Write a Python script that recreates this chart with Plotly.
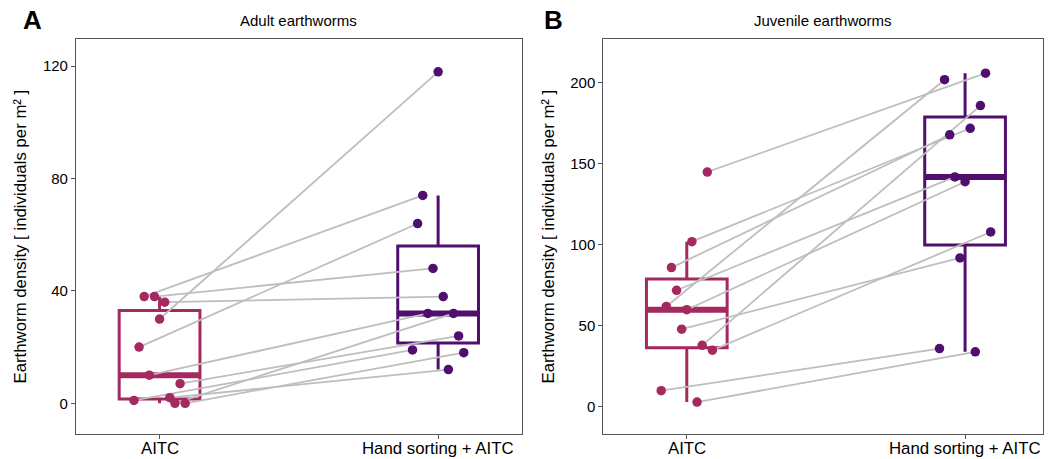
import numpy as np
import plotly.graph_objects as go

W, H = 1049, 459

groups = ["AITC", "Hand sorting + AITC"]

# Earthworm density per site (same site order in both treatments)
adult_aitc = [1, 20, 38, 10, 38, 30, 36, 2, 0, 7, 0]
adult_hand = [19, 64, 74, 32, 48, 118, 38, 12, 32, 24, 18]
juvenile_aitc = [10, 62, 86, 72, 48, 60, 102, 3, 38, 145, 35]
juvenile_hand = [36, 202, 168, 142, 92, 139, 172, 34, 186, 206, 108]

panel_titles = ["Adult earthworms", "Juvenile earthworms"]
panel_tags = ["A", "B"]
y_ticks_adult = [0, 40, 80, 120]
y_ticks_juvenile = [0, 50, 100, 150, 200]

COL_AITC = "#A3295F"
COL_HAND = "#500F6E"
COL_PAIR = "#BEBEBE"
FRAME = "#555555"
FONT = "Liberation Sans, Arial, Helvetica, sans-serif"

BOX_W = 0.29
n_sites = len(adult_aitc)
# dodge each site to its own slot so the paired points do not overlap
dodge = np.linspace(-0.092, 0.092, n_sites)


def box_stats(vals):
    """Tukey box statistics: quartiles and whiskers at the last point within 1.5 IQR."""
    v = np.asarray(vals, dtype=float)
    q1, med, q3 = np.percentile(v, [25, 50, 75])
    iqr = q3 - q1
    lo = v[v >= q1 - 1.5 * iqr].min()
    hi = v[v <= q3 + 1.5 * iqr].max()
    return q1, med, q3, lo, hi


fig = go.Figure()


def add_panel(fig, before, after, xa, ya):
    xref = "x" if xa == 1 else f"x{xa}"
    yref = "y" if ya == 1 else f"y{ya}"
    for pos, vals, col in [(1, before, COL_AITC), (2, after, COL_HAND)]:
        q1, med, q3, lo, hi = box_stats(vals)
        fig.add_trace(go.Box(
            x=[pos], q1=[q1], median=[med], q3=[q3],
            lowerfence=[lo], upperfence=[hi], width=BOX_W,
            fillcolor="rgba(0,0,0,0)", line=dict(color=col, width=3),
            boxpoints=False, whiskerwidth=0,
            xaxis=xref, yaxis=yref, showlegend=False, hoverinfo="skip",
        ))
        fig.add_trace(go.Scatter(
            x=[pos - BOX_W / 2, pos + BOX_W / 2], y=[med, med], mode="lines",
            line=dict(color=col, width=6), xaxis=xref, yaxis=yref,
            showlegend=False, hoverinfo="skip",
        ))
    # paired lines between the two treatments of each site
    for i in range(len(before)):
        fig.add_trace(go.Scatter(
            x=[1 + dodge[i], 2 + dodge[i]], y=[before[i], after[i]],
            mode="lines", line=dict(color=COL_PAIR, width=1.8),
            xaxis=xref, yaxis=yref, showlegend=False, hoverinfo="skip",
        ))
    for pos, vals, col in [(1, before, COL_AITC), (2, after, COL_HAND)]:
        fig.add_trace(go.Scatter(
            x=pos + dodge, y=vals, mode="markers",
            marker=dict(color=col, size=9.5, line=dict(width=0)),
            xaxis=xref, yaxis=yref, showlegend=False,
        ))


add_panel(fig, adult_aitc, adult_hand, 1, 1)
add_panel(fig, juvenile_aitc, juvenile_hand, 2, 2)

y_dom = [1 - 434.3 / H, 1 - 38.7 / H]
axis_common = dict(
    showline=True, mirror=True, linecolor=FRAME, linewidth=1.1,
    ticks="outside", ticklen=4, tickwidth=1.1, tickcolor=FRAME,
    showgrid=False, zeroline=False, automargin=False,
    tickfont=dict(family=FONT, size=15, color="#000000"),
)

fig.update_layout(
    width=W, height=H,
    margin=dict(l=0, r=0, t=0, b=0),
    paper_bgcolor="white", plot_bgcolor="white",
    boxmode="overlay",
    xaxis=dict(domain=[76 / W, 521.7 / W], range=[0.7, 2.3],
               tickvals=[1, 2], showticklabels=False, anchor="y", **axis_common),
    yaxis=dict(domain=y_dom, range=[-11.04, 129.8], tickvals=y_ticks_adult,
               anchor="x", **axis_common),
    xaxis2=dict(domain=[603.3 / W, 1043 / W], range=[0.7, 2.28],
                tickvals=[1, 2], showticklabels=False, anchor="y2", **axis_common),
    yaxis2=dict(domain=y_dom, range=[-16.9, 227.3], tickvals=y_ticks_juvenile,
                anchor="x2", **axis_common),
)

# category labels under each x axis
for xr in ["x", "x2"]:
    for pos, name in zip([1, 2], groups):
        fig.add_annotation(x=pos, y=1 - 448 / H, xref=xr, yref="paper",
                           text=name, showarrow=False, xanchor="center", yanchor="middle",
                           font=dict(family=FONT, size=16.8, color="#000"))

ylab = "Earthworm density [ individuals per m² ]"
y_mid = (y_dom[0] + y_dom[1]) / 2
for cx, title, tag, tagx, labx in [
    ((76 + 521.7) / 2, panel_titles[0], panel_tags[0], 32, 20),
    ((603.3 + 1043) / 2, panel_titles[1], panel_tags[1], 553, 548),
]:
    fig.add_annotation(x=cx / W, y=1 - 20 / H, xref="paper", yref="paper",
                       text=title, showarrow=False, xanchor="center", yanchor="middle",
                       font=dict(family=FONT, size=15, color="#000"))
    fig.add_annotation(x=tagx / W, y=1 - 20 / H, xref="paper", yref="paper",
                       text=f"<b>{tag}</b>", showarrow=False, xanchor="center", yanchor="middle",
                       font=dict(family=FONT, size=26, color="#000"))
    fig.add_annotation(x=labx / W, y=y_mid, xref="paper", yref="paper",
                       text=ylab, textangle=-90, showarrow=False,
                       xanchor="center", yanchor="middle",
                       font=dict(family=FONT, size=16.8, color="#000"))

fig.write_html("out.html")
